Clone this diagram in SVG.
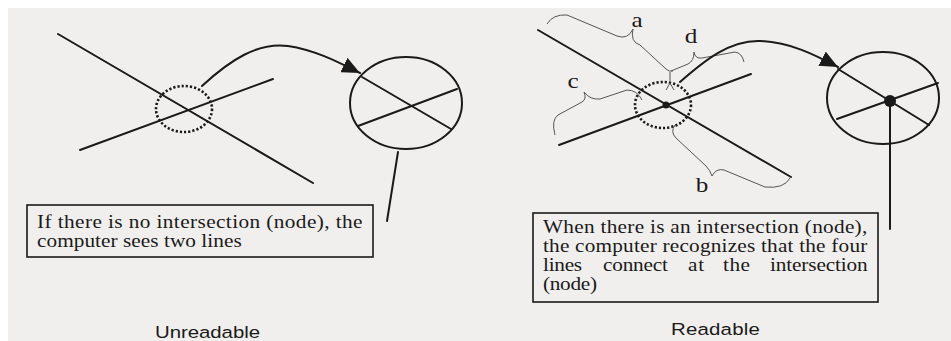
<svg xmlns="http://www.w3.org/2000/svg" width="951" height="341" viewBox="0 0 951 341">
<style>
.ln{stroke:#1a1a1a;stroke-width:2;fill:none;stroke-linecap:round}
.dot{stroke:#1a1a1a;stroke-width:2.6;fill:none;stroke-dasharray:2.2 2}
.br{stroke:#555;stroke-width:1;fill:none}
.box{stroke:#1a1a1a;stroke-width:1.6;fill:none}
.tx{font-family:"Liberation Serif",serif;font-size:18.5px;fill:#1a1a1a}
.lb{font-family:"Liberation Serif",serif;font-size:21px;fill:#1a1a1a}
.cap{font-family:"Liberation Sans",Arial,sans-serif;font-size:17px;fill:#1a1a1a}
</style>
<defs>
<marker id="ah" markerUnits="userSpaceOnUse" markerWidth="20" markerHeight="16" refX="18" refY="8" orient="auto">
<path d="M0,0 L18,8 L0,16 z" fill="#1a1a1a"/>
</marker>
</defs>
<rect width="951" height="341" fill="#ffffff"/>
<rect x="8" y="8" width="943" height="333" fill="#f1efed"/>

<g id="unreadable">
<line class="ln" x1="58" y1="34" x2="313" y2="183"/>
<line class="ln" x1="80" y1="150" x2="273" y2="79"/>
<ellipse class="dot" cx="184" cy="109" rx="28" ry="23"/>
</g>
<g id="zoom-left">
<ellipse class="ln" cx="406" cy="103" rx="56" ry="46"/>
<line class="ln" x1="362" y1="77" x2="451" y2="129"/>
<line class="ln" x1="358" y1="126" x2="457" y2="89"/>
</g>
<g id="note-left">
<rect class="box" x="27" y="205" width="346" height="52"/>
<text class="tx" transform="translate(37,228) scale(1.15,1)" textLength="283" lengthAdjust="spacing">If there is no intersection (node), the</text>
<text class="tx" transform="translate(37,247) scale(1.15,1)" textLength="178" lengthAdjust="spacing">computer sees two lines</text>
</g>
<g id="caption-left">
<text class="cap" transform="translate(155,338) scale(1.2,1)" textLength="87.5" lengthAdjust="spacing">Unreadable</text>
</g>

<g id="readable">
<line class="ln" x1="538" y1="30" x2="791" y2="177"/>
<line class="ln" x1="559" y1="145" x2="751" y2="74"/>
<ellipse class="dot" cx="663" cy="105" rx="28" ry="23"/>
<circle cx="666" cy="105" r="3.5" fill="#1a1a1a"/>
</g>
<g id="braces">
<path class="br" d="M547,24 Q553,14 567,15 L617,36 Q628,40 633,29 Q630,42 640,45 L666,69 Q669,72 673,71"/>
<path class="br" d="M671,71 L688,64 Q694,61 694,52 Q695,59 702,58 L735,52 Q742,53 744,62"/>
<path class="br" d="M555,135 Q551,120 558,115 L582,102 Q587,99 584,92 Q590,100 600,99 L627,90 Q637,90 642,100"/>
<path class="br" d="M675,125 Q670,132 676,138 L706,166 Q710,170 712,176 Q716,168 724,170 L765,187 Q784,189 790,178"/>
<path class="br" d="M670,72 L670,81 M666,90 L670,83 L674,90"/>
<text class="lb" transform="translate(637,27) scale(1.2,1)" text-anchor="middle">a</text>
<text class="lb" transform="translate(691,43) scale(1.2,1)" text-anchor="middle">d</text>
<text class="lb" transform="translate(573,88) scale(1.2,1)" text-anchor="middle">c</text>
<text class="lb" transform="translate(702,192) scale(1.2,1)" text-anchor="middle">b</text>
</g>
<g id="zoom-right">
<ellipse class="ln" cx="883" cy="98" rx="56" ry="46"/>
<line class="ln" x1="838" y1="69" x2="929" y2="125"/>
<line class="ln" x1="837" y1="119" x2="938" y2="83"/>
<line class="ln" x1="890" y1="101" x2="890" y2="229"/>
<circle cx="890" cy="101" r="6" fill="#1a1a1a"/>
</g>
<g id="note-right">
<rect class="box" x="533" y="213" width="345" height="89"/>
<text class="tx" transform="translate(543,233) scale(1.15,1)" textLength="282" lengthAdjust="spacing">When there is an intersection (node),</text>
<text class="tx" transform="translate(543,252) scale(1.15,1)" textLength="282" lengthAdjust="spacing">the computer recognizes that the four</text>
<text class="tx" transform="translate(543,271) scale(1.15,1)" textLength="34" lengthAdjust="spacing">lines</text>
<text class="tx" transform="translate(603,271) scale(1.15,1)" textLength="56.5" lengthAdjust="spacing">connect</text>
<text class="tx" transform="translate(688,271) scale(1.15,1)" textLength="14" lengthAdjust="spacing">at</text>
<text class="tx" transform="translate(723,271) scale(1.15,1)" textLength="23.5" lengthAdjust="spacing">the</text>
<text class="tx" transform="translate(770,271) scale(1.15,1)" textLength="85" lengthAdjust="spacing">intersection</text>
<text class="tx" transform="translate(543,290) scale(1.15,1)" textLength="47" lengthAdjust="spacing">(node)</text>
</g>
<g id="caption-right">
<text class="cap" transform="translate(671,335) scale(1.2,1)" textLength="74" lengthAdjust="spacing">Readable</text>
</g>

<g id="connectors">
<path class="ln" d="M202,86 C230,60 258,42 288,46 C315,50 338,62 360,73" marker-end="url(#ah)"/>
<line class="ln" x1="398" y1="152" x2="387" y2="221"/>
<path class="ln" d="M680,82 C705,60 730,40 760,41 C790,42 815,55 838,67" marker-end="url(#ah)"/>
</g>
</svg>
